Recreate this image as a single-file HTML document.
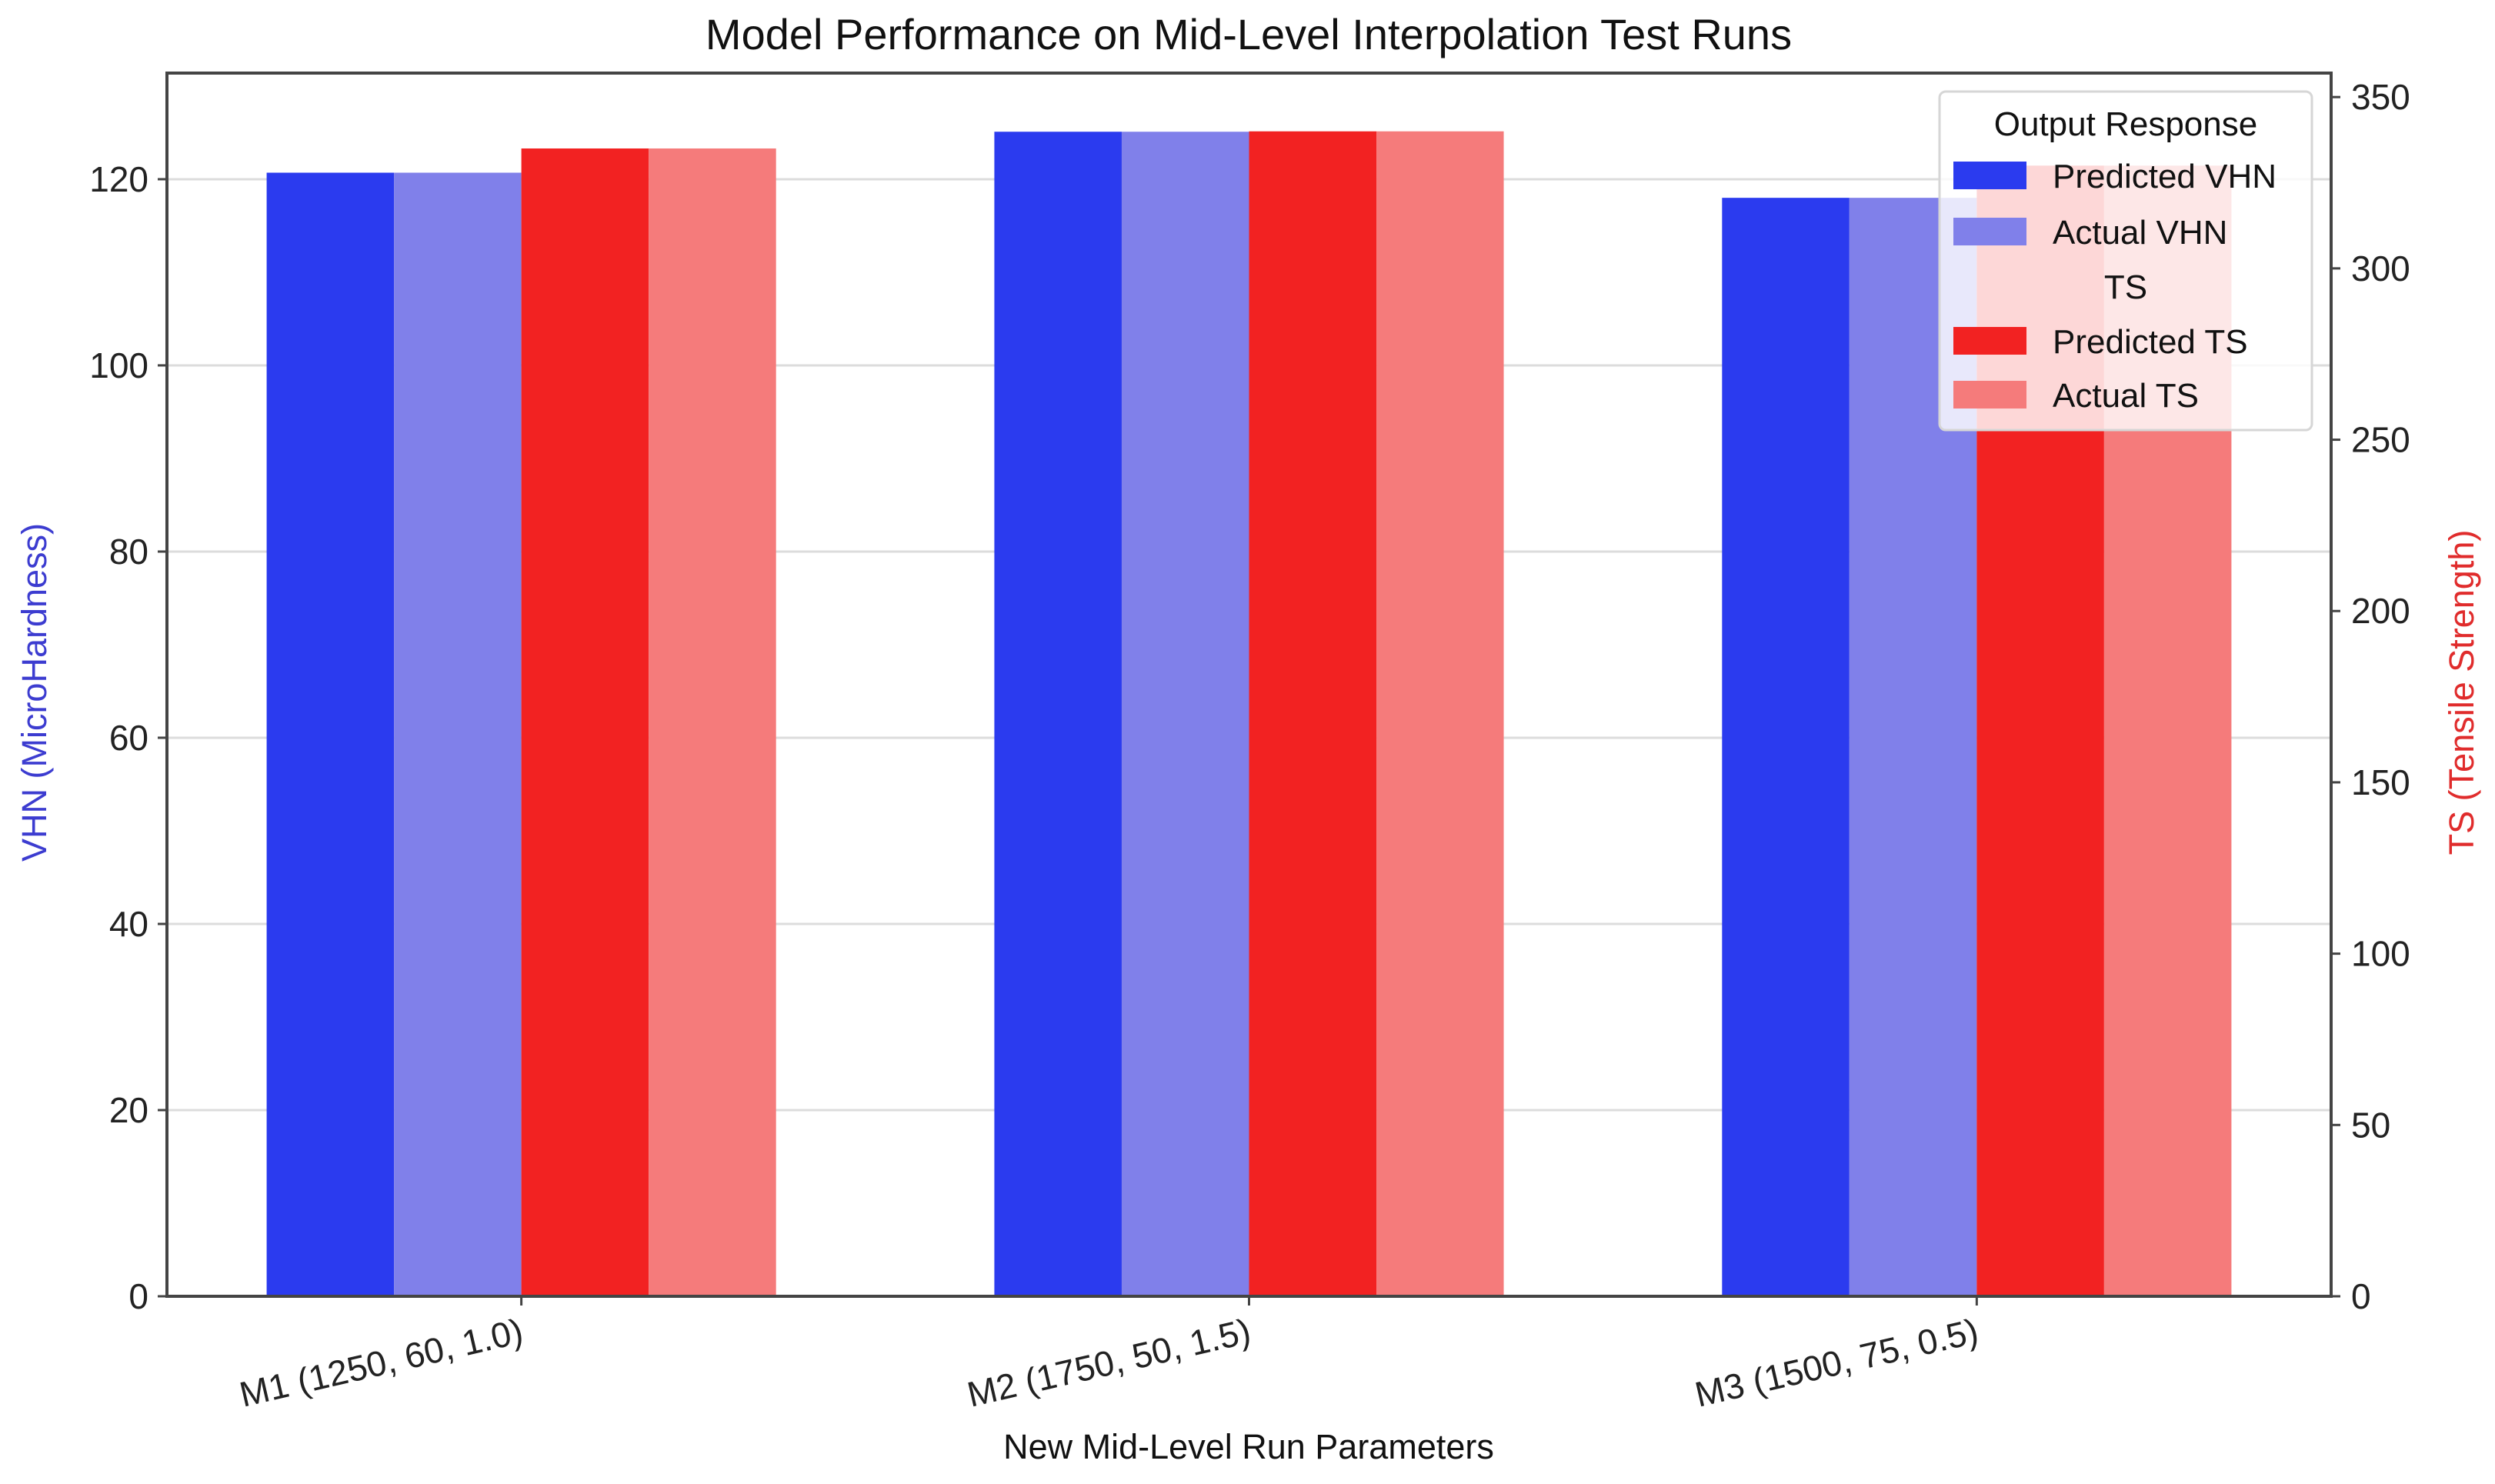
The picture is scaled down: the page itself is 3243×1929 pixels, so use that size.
<!DOCTYPE html>
<html><head><meta charset="utf-8"><style>
html,body{margin:0;padding:0;background:#fff;}
svg{display:block;font-family:"Liberation Sans",sans-serif;}
</style></head><body>
<svg id="chart" width="3243" height="1929" viewBox="0 0 3243 1929" xmlns="http://www.w3.org/2000/svg"></svg>
<script>
const categories = ["M1 (1250, 60, 1.0)", "M2 (1750, 50, 1.5)", "M3 (1500, 75, 0.5)"];
const predVHN = [120.7, 125.1, 118.0];
const actVHN = [120.7, 125.1, 118.0];
const predTS = [335, 340, 330];
const actTS = [335, 340, 330];
const leftTicks = [0, 20, 40, 60, 80, 100, 120];
const rightTicks = [0, 50, 100, 150, 200, 250, 300, 350];

const NS = "http://www.w3.org/2000/svg";
const svg = document.getElementById("chart");
const L = 217, R = 3030, T = 95, B = 1685;
const xMin = -0.487, xMax = 2.487, yLMax = 131.4, yRMax = 357;
const xs = v => L + (v - xMin) / (xMax - xMin) * (R - L);
const yl = v => B - v / yLMax * (B - T);
const yr = v => B - v / yRMax * (B - T);
function mk(tag, attrs, parent) {
  const e = document.createElementNS(NS, tag);
  for (const k in attrs) e.setAttribute(k, attrs[k]);
  (parent || svg).appendChild(e);
  return e;
}
leftTicks.forEach(t => {
  const g = mk("line", {x1: L, x2: R, y1: yl(t), y2: yl(t), stroke: "#dcdcdc", "stroke-width": 3});
  
  
});
const bw = 0.175;
const series = [
  {vals: predVHN, color: "#2b3bef", off: -1.5, axis: yl, name: "bar-predicted-vhn"},
  {vals: actVHN, color: "#8080ea", off: -0.5, axis: yl, name: "bar-actual-vhn"},
  {vals: predTS, color: "#f22222", off: 0.5, axis: yr, name: "bar-predicted-ts"},
  {vals: actTS, color: "#f57b7b", off: 1.5, axis: yr, name: "bar-actual-ts"}
];
series.forEach(s => {
  s.vals.forEach((v, i) => {
    const x0 = xs(i + (s.off - 0.5) * bw), x1 = xs(i + (s.off + 0.5) * bw);
    const y = s.axis(v);
    const r = mk("rect", {x: x0, y: y, width: x1 - x0, height: B - y, fill: s.color});
    
    
  });
});
const fr = mk("rect", {x: L, y: T, width: R - L, height: B - T, fill: "none", stroke: "#444", "stroke-width": 4});


leftTicks.forEach(t => {
  mk("line", {x1: L - 12, x2: L, y1: yl(t), y2: yl(t), stroke: "#444", "stroke-width": 3});
  const tx = mk("text", {x: L - 24, y: yl(t) + 16, "text-anchor": "end", "font-size": 46, fill: "#222"});
  tx.textContent = t;
  
  
});
rightTicks.forEach(t => {
  mk("line", {x1: R, x2: R + 12, y1: yr(t), y2: yr(t), stroke: "#444", "stroke-width": 3});
  const tx = mk("text", {x: R + 26, y: yr(t) + 16, "text-anchor": "start", "font-size": 46, fill: "#222"});
  tx.textContent = t;
  
  
});
categories.forEach((c, i) => {
  const x = xs(i);
  mk("line", {x1: x, x2: x, y1: B, y2: B + 12, stroke: "#444", "stroke-width": 3});
  const tx = mk("text", {x: x, y: B + 60, "text-anchor": "end", "font-size": 46, fill: "#222", transform: `rotate(-13 ${x} ${B + 40})`});
  tx.textContent = c;
  
  
});
</script>
<script>
(function(){
const svg = document.getElementById("chart");
const NS = "http://www.w3.org/2000/svg";
function t(txt, a, name){ const e=document.createElementNS(NS,"text"); for(const k in a) e.setAttribute(k,a[k]); e.textContent=txt;
  
  
  svg.appendChild(e); return e; }
t("Model Performance on Mid-Level Interpolation Test Runs",{x:1623,y:64,"text-anchor":"middle","font-size":56,fill:"#111"},"chart-title");
t("New Mid-Level Run Parameters",{x:1623,y:1896,"text-anchor":"middle","font-size":45,fill:"#111"},"x-axis-title");
t("VHN (MicroHardness)",{x:0,y:0,"text-anchor":"middle","font-size":45,fill:"#3c3cd0",transform:"translate(60 900) rotate(-90)"},"left-axis-title");
t("TS (Tensile Strength)",{x:0,y:0,"text-anchor":"middle","font-size":45,fill:"#e02c2c",transform:"translate(3215 900) rotate(-90)"},"right-axis-title");
const g=document.createElementNS(NS,"g");


svg.appendChild(g);
const box=document.createElementNS(NS,"rect");
[["x",2521],["y",119],["width",484],["height",440],["rx",8],["fill","rgba(255,255,255,0.82)"],["stroke","#d6d6d6"],["stroke-width",3]].forEach(p=>box.setAttribute(p[0],p[1]));
g.appendChild(box);
const items=[["Output Response",null,160,2763],["Predicted VHN","#2b3bef",228],["Actual VHN","#8080ea",301],["TS",null,372,2763],["Predicted TS","#f22222",443],["Actual TS","#f57b7b",513]];
items.forEach(it=>{
  if(it[1]){ const r=document.createElementNS(NS,"rect");
    [["x",2539],["y",it[2]-18],["width",95],["height",36],["fill",it[1]]].forEach(p=>r.setAttribute(p[0],p[1]));
    
    
    g.appendChild(r);}
  const e=document.createElementNS(NS,"text");
  e.setAttribute("x", it[3]||2668); e.setAttribute("y", it[2]+16);
  e.setAttribute("font-size",44); e.setAttribute("fill","#111");
  if(it[3]) e.setAttribute("text-anchor","middle");
  e.textContent=it[0];
  
  
  g.appendChild(e);
});
})();
</script>
</body></html>
